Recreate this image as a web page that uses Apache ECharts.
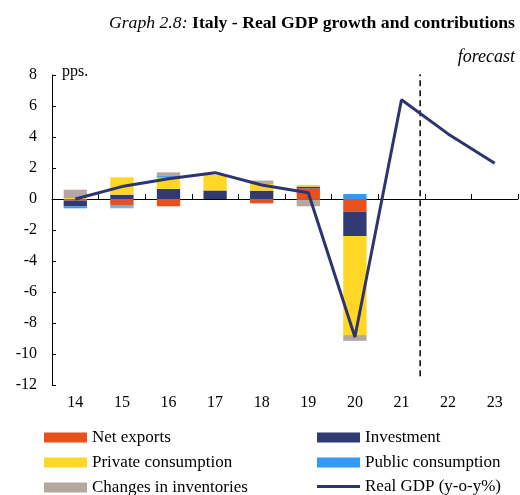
<!DOCTYPE html>
<html>
<head>
<meta charset="utf-8">
<script src="https://cdn.jsdelivr.net/npm/echarts@6/dist/echarts.min.js"></script>
<style>
  html, body { margin: 0; padding: 0; background: #fff; }
  #chart { width: 520px; height: 495px; }
</style>
</head>
<body>
<div id="chart"></div>
<script>
// years (labels) and contributions in pps
const years = ['14', '15', '16', '17', '18', '19', '20', '21', '22', '23']
const netExports = [-0.1, -0.42, -0.47, 0, -0.28, 0.68, -0.82, null, null, null]
const investment = [-0.38, 0.28, 0.65, 0.55, 0.54, 0.12, -1.57, null, null, null]
const privateCons = [0.06, 1.12, 0.73, 1.0, 0.43, 0.11, -6.39, null, null, null]
const publicCons = [-0.12, -0.08, 0.1, 0, 0, -0.04, 0.32, null, null, null]
const inventories = [0.54, -0.1, 0.24, 0, 0.22, -0.43, -0.37, null, null, null]
const realGdp = [0.0, 0.8, 1.3, 1.7, 0.9, 0.4, -8.9, 6.4, 4.2, 2.3]
// forecast separator, between 21 and 22 (category index units)
const forecastX = 7.4
const forecastSpan = [8.3, -11.7]

const serif = '"Liberation Serif", "DejaVu Serif", serif'
const colors = {
    net: '#E8501C',
    inv: '#313A72',
    priv: '#FFD724',
    pub: '#3399F5',
    stock: '#B5A8A0',
    gdp: '#2E3470'
}

let chart = echarts.init(document.getElementById('chart'))

const barSeries = (name, data, color) => ({
    name: name,
    type: 'bar',
    stack: 'contrib',
    data: data,
    barWidth: '50%',
    itemStyle: { color: color },
    xAxisIndex: 0,
    yAxisIndex: 0
})

const legendText = { fontFamily: serif, fontSize: 17, color: '#000' }
const legendBox = (left, top, items, h) => ({
    orient: 'vertical',
    left: left,
    top: top,
    height: 80,
    icon: 'rect',
    itemWidth: 43,
    itemHeight: h,
    itemGap: 8,
    textStyle: legendText,
    data: items
})

let option = {
    animation: false,
    textStyle: { fontFamily: serif, color: '#000' },
    title: [
        {
            text: '{i|Graph 2.8:} {b|Italy - Real GDP growth and contributions}',
            right: 0,
            top: 9,
            textStyle: {
                rich: {
                    i: { fontFamily: serif, fontStyle: 'italic', fontWeight: 'normal', fontSize: 17.7, color: '#000' },
                    b: { fontFamily: serif, fontWeight: 'bold', fontSize: 17.7, color: '#000' }
                }
            }
        },
        {
            text: 'forecast',
            right: 0,
            top: 43,
            textStyle: { fontFamily: serif, fontStyle: 'italic', fontWeight: 'normal', fontSize: 18, color: '#000' }
        },
        {
            text: 'pps.',
            left: 57,
            top: 59,
            textStyle: { fontFamily: serif, fontWeight: 'normal', fontSize: 16, color: '#000' }
        }
    ],
    legend: [
        legendBox(39, 424, ['Net exports', 'Private consumption', 'Changes in inventories'], 10),
        legendBox(312, 424, ['Investment', 'Public consumption'], 10),
        legendBox(312, 473, ['Real GDP (y-o-y%)'], 3)
    ],
    grid: { left: 52, right: 2, top: 75, bottom: 110 },
    xAxis: [
        {
            type: 'category',
            data: years,
            position: 'bottom',
            axisLine: { onZero: true, lineStyle: { color: '#000', width: 1 } },
            axisTick: { show: true, inside: true, length: 5, lineStyle: { color: '#000' } },
            axisLabel: { show: false }
        },
        {
            type: 'category',
            data: years,
            position: 'bottom',
            axisLine: { show: false, onZero: false },
            axisTick: { show: false },
            axisLabel: { fontFamily: serif, fontSize: 16, color: '#000', margin: 10 }
        },
        {
            type: 'value',
            min: -0.5,
            max: years.length - 0.5,
            show: false
        }
    ],
    yAxis: {
        type: 'value',
        min: -12,
        max: 8,
        interval: 2,
        axisLine: { show: true, onZero: false, lineStyle: { color: '#000', width: 1 } },
        axisTick: { show: true, inside: true, length: 4, lineStyle: { color: '#000' } },
        axisLabel: { fontFamily: serif, fontSize: 16, color: '#000', margin: 15 },
        splitLine: { show: false }
    },
    series: [
        barSeries('Net exports', netExports, colors.net),
        barSeries('Investment', investment, colors.inv),
        barSeries('Private consumption', privateCons, colors.priv),
        barSeries('Public consumption', publicCons, colors.pub),
        barSeries('Changes in inventories', inventories, colors.stock),
        {
            name: 'Real GDP (y-o-y%)',
            type: 'line',
            data: realGdp,
            symbol: 'none',
            z: 5,
            lineStyle: { color: colors.gdp, width: 3 },
            itemStyle: { color: colors.gdp }
        },
        {
            name: 'forecast line',
            type: 'line',
            xAxisIndex: 2,
            data: forecastSpan.map(v => [forecastX, v]),
            symbol: 'none',
            z: 4,
            lineStyle: { color: '#000', width: 1.5, type: [6, 4] }
        }
    ]
}

chart.setOption(option)
</script>
</body>
</html>
